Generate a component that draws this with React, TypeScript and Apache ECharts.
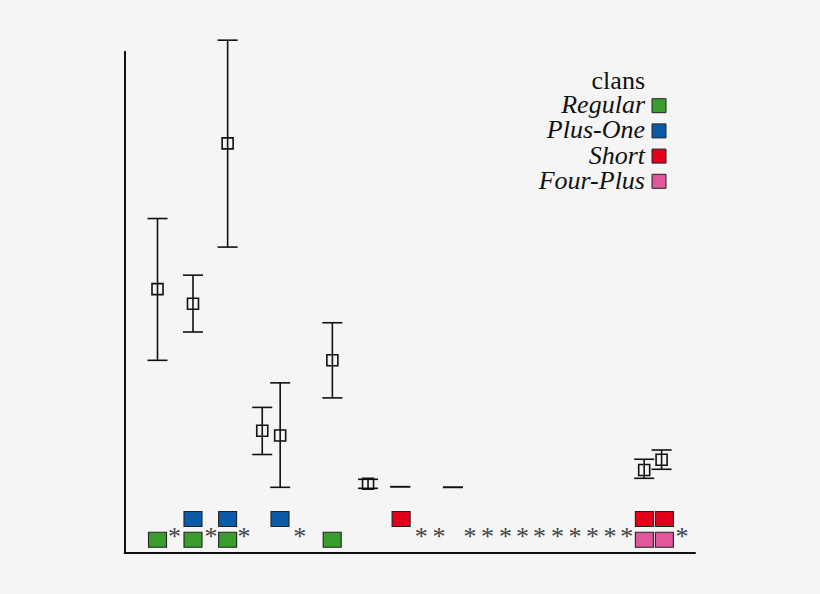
import React, { useRef, useEffect } from 'react';
import * as echarts from 'echarts';

// clans shown as coloured boxes under the columns
const clans = ['Regular', 'Plus-One', 'Short', 'Four-Plus'];
const clanColors = ['#3a9e2e', '#0b5aa7', '#e2001a', '#e1579b'];
const clanRows = [2.57, 6.73, 6.73, 2.57];
const clanSlots = [
  [0, 2.04, 4.03, 10.04],
  [2.04, 4.03, 7.04],
  [14.0, 27.98, 29.13],
  [27.98, 29.13],
];

// error bar points (slot on x, values on y)
const pointSlots = [0, 2.04, 4.03, 6.02, 7.05, 10.05, 12.1, 13.95, 16.98, 27.97, 28.97];
const pointMeans = [52.6, 49.7, 81.7, 24.35, 23.4, 38.4, 13.75, null, null, 16.5, 18.56];
const pointLows = [38.4, 44.05, 61.0, 19.6, 13.05, 30.9, 12.85, 13.17, 13.05, 14.85, 16.65];
const pointHighs = [66.7, 55.4, 102.3, 29.0, 33.9, 45.9, 14.65, 13.17, 13.05, 18.65, 20.5];

// asterisks along the bottom
const starSlots = [0.98, 3.07, 4.97, 8.17, 15.16, 16.18, 17.96, 18.97, 20.0, 20.98, 21.95, 22.99, 23.99, 25.0, 26.01, 26.97, 30.14];
const starRow = 3.3;

const legendTitle = 'clans';

const App: React.FC = () => {
  const chartRef = useRef<HTMLDivElement>(null);

  useEffect(() => {
    if (!chartRef.current) return;
    const chart = echarts.init(chartRef.current, undefined, { renderer: 'svg' });

    const ink = '#111';

    const legendRight = 645;
    const legendTop = 80.5;
    const rowGap = 25.2;
    const legendGraphic: any[] = [
      {
        type: 'text',
        x: legendRight,
        y: legendTop,
        style: {
          text: legendTitle,
          fontFamily: '"Liberation Serif", serif',
          fontSize: 26,
          lineHeight: 22,
          fill: ink,
          align: 'right',
          verticalAlign: 'middle',
        },
      },
    ];
    clans.forEach((name, i) => {
      const cy = legendTop + rowGap * (i + 1);
      legendGraphic.push({
        type: 'text',
        x: legendRight,
        y: cy - 1,
        style: {
          text: name,
          fontFamily: '"Liberation Serif", serif',
          fontStyle: 'italic',
          fontSize: 26,
          lineHeight: 22,
          fill: ink,
          align: 'right',
          verticalAlign: 'middle',
        },
      });
      legendGraphic.push({
        type: 'rect',
        shape: { x: 652, y: cy - 7, width: 14, height: 14 },
        style: { fill: clanColors[i], stroke: '#222', lineWidth: 1 },
      });
    });

    const clanSeries = clans.map((name, i) => ({
      name,
      type: 'scatter',
      symbol: 'rect',
      symbolSize: [18, 15],
      itemStyle: { color: clanColors[i], borderColor: '#222', borderWidth: 1, opacity: 1 },
      data: clanSlots[i].map((s) => [s, clanRows[i]]),
      z: 3,
    }));

    const option: any = {
      animation: false,
      backgroundColor: '#f5f5f5',
      grid: { left: 124.7, right: 125, top: 51.7, bottom: 41.3 },
      xAxis: {
        type: 'value',
        min: -1.885,
        max: 30.89,
        axisLine: { show: true, onZero: false, lineStyle: { color: ink, width: 2 } },
        axisTick: { show: false },
        axisLabel: { show: false },
        splitLine: { show: false },
      },
      yAxis: {
        type: 'value',
        min: 0,
        max: 100,
        axisLine: { show: true, onZero: false, lineStyle: { color: ink, width: 2 } },
        axisTick: { show: false },
        axisLabel: { show: false },
        splitLine: { show: false },
      },
      graphic: legendGraphic,
      series: [
        {
          type: 'custom',
          name: 'range',
          clip: false,
          encode: { x: 0, y: [1, 2] },
          data: pointSlots.map((s, i) => [s, pointLows[i], pointHighs[i]]),
          renderItem: (params: any, api: any) => {
            const lo = api.coord([api.value(0), api.value(1)]);
            const hi = api.coord([api.value(0), api.value(2)]);
            const cx = lo[0];
            const style = { stroke: ink, lineWidth: 1.6, fill: 'none' };
            return {
              type: 'group',
              children: [
                { type: 'line', shape: { x1: cx, y1: lo[1], x2: cx, y2: hi[1] }, style },
                { type: 'line', shape: { x1: cx - 10, y1: lo[1], x2: cx + 10, y2: lo[1] }, style },
                { type: 'line', shape: { x1: cx - 10, y1: hi[1], x2: cx + 10, y2: hi[1] }, style },
              ],
            };
          },
          z: 2,
        },
        {
          type: 'scatter',
          name: 'mean',
          symbol: 'rect',
          symbolSize: [11, 11],
          itemStyle: { color: 'none', borderColor: ink, borderWidth: 1.6, opacity: 1 },
          data: pointSlots
            .map((s, i) => [s, pointMeans[i]])
            .filter((d) => d[1] !== null),
          z: 4,
        },
        ...clanSeries,
        {
          type: 'custom',
          name: 'stars',
          clip: false,
          data: starSlots.map((s) => [s, starRow]),
          renderItem: (params: any, api: any) => {
            const p = api.coord([api.value(0), api.value(1)]);
            return {
              type: 'text',
              x: p[0],
              y: p[1],
              style: {
                text: '*',
                fontFamily: '"Liberation Serif", serif',
                fontSize: 26,
                fill: '#444',
                align: 'center',
                verticalAlign: 'middle',
              },
            };
          },
          z: 3,
        },
      ],
    };

    chart.setOption(option);
    return () => {
      chart.dispose();
    };
  }, []);

  return (
    <div
      ref={chartRef}
      style={{ position: 'fixed', left: 0, top: 0, width: 820, height: 594 }}
    />
  );
};

export default App;
